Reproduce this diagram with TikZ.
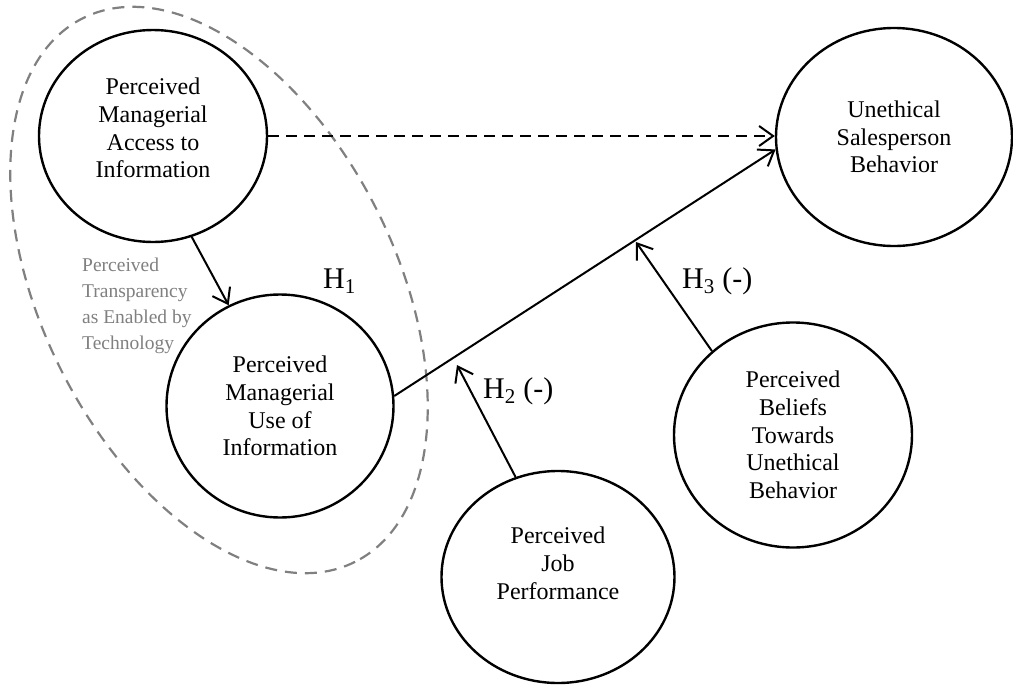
\documentclass[tikz,border=0pt]{standalone}
\usepackage{fontspec}
\setmainfont{Liberation Serif}
\usepackage{tikz}
\usetikzlibrary{shapes.geometric, arrows.meta, positioning}
\tikzstyle{arrow} = [line width=2pt, -{Straight Barb[length=14pt,width=20pt]}]
\tikzstyle{ellipseNode} = [
                ellipse,
                minimum width = 232pt,
                minimum height = 216pt,
                text centered,
                align = center,
                draw=black,
                line width = 2.4pt,
                inner sep=0pt,
                font = \fontsize{24}{27.7}\selectfont
            ]
\tikzstyle{hLabel} = [anchor=base west, inner sep=0pt, font=\fontsize{30}{34}\selectfont]

\begin{document}
\begin{tikzpicture}[x=1pt, y=-1pt]
    \useasboundingbox (0,0) rectangle (1013,686);
    % grey dashed group round the two managerial constructs
    \draw [gray, line width=2.2pt, dash pattern=on 12pt off 8pt, rotate around={-63.4:(219,290)}] (219,290) ellipse [x radius=304, y radius=177];
    \node (transp) [anchor=north west, align=left, inner sep=0pt, text=gray, font=\fontsize{19.5}{26}\selectfont] at (82,258) {Perceived\\Transparency\\as Enabled by\\Technology};

    \node (access) [ellipseNode, minimum width=228pt, minimum height=212pt] at (153,136) {Perceived\\Managerial\\Access to\\Information\\[-11.7pt]\mbox{}};
    \node (use) [ellipseNode, minimum width=227pt, minimum height=223pt] at (280,406) {Perceived\\Managerial\\Use of\\Information};
    \node (unethical) [ellipseNode, minimum width=236pt, minimum height=218pt] at (894,137) {Unethical\\Salesperson\\Behavior};
    \node (job) [ellipseNode, minimum width=233pt, minimum height=212pt] at (558,577) {Perceived\\Job\\Performance\\\mbox{}};
    \node (beliefs) [ellipseNode, minimum width=238pt, minimum height=225pt] at (793,435) {Perceived\\Beliefs\\Towards\\Unethical\\Behavior};

    \coordinate (h2tip) at (457,365);
    \coordinate (h3tip) at (636,242);

    \draw [arrow] (access.-69) -- (use.117);
    \draw [arrow, dash pattern=on 11pt off 7pt] (access.east) -- (access.east -| unethical.west);
    \draw [arrow] (use.5) -- (unethical.186);
    \draw [arrow] (job.113) -- (h2tip);
    \draw [arrow] (beliefs.134) -- (h3tip);

    \node (h1) [hLabel] at (323,288) {H\textsubscript{1}};
    \node (h2) [hLabel] at (483,398) {H\textsubscript{2} (-)};
    \node (h3) [hLabel] at (682,288) {H\textsubscript{3} (-)};
\end{tikzpicture}
\end{document}
